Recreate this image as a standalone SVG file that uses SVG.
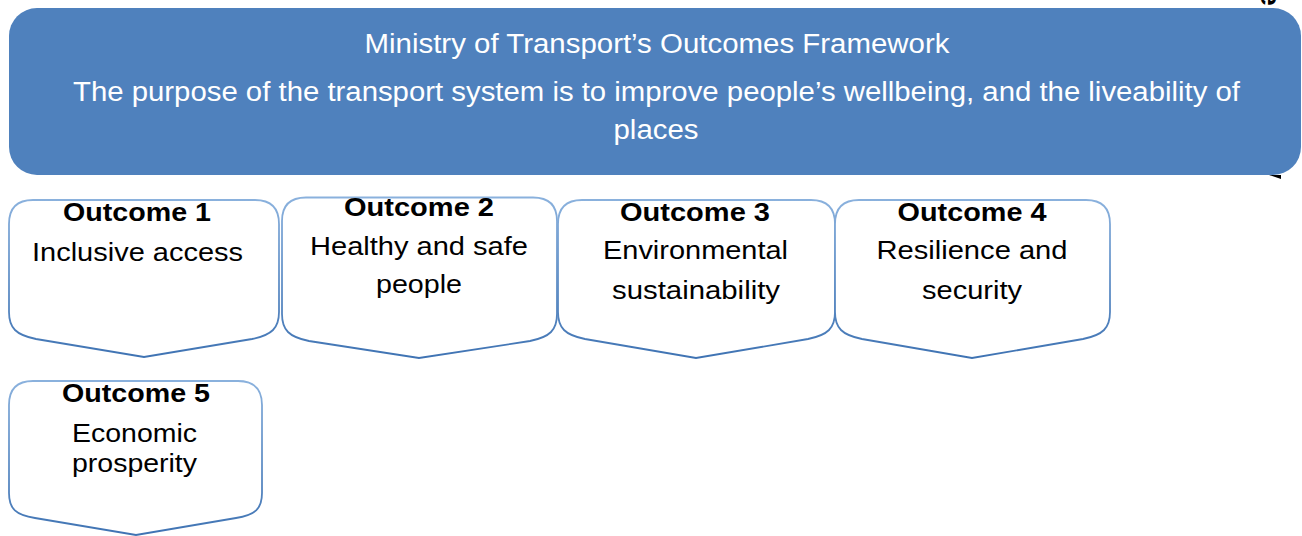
<svg xmlns="http://www.w3.org/2000/svg" width="1302" height="536" viewBox="0 0 1302 536">
  <defs>
    <linearGradient id="edge" x1="0" y1="0" x2="0" y2="1">
      <stop offset="0" stop-color="#8AB1DD"/>
      <stop offset="1" stop-color="#3F73B3"/>
    </linearGradient>
    <style>
      .banner { fill: #4F81BD; }
      .banner-text { fill: #FFFFFF; font-family: "Liberation Sans", Arial, sans-serif; font-size: 27px; text-anchor: middle; }
      .outcome { fill: #FFFFFF; stroke: url(#edge); stroke-width: 1.8; }
      .head { fill: #000000; font-family: "Liberation Sans", Arial, sans-serif; font-size: 26px; font-weight: bold; text-anchor: middle; }
      .body { fill: #000000; font-family: "Liberation Sans", Arial, sans-serif; font-size: 26px; text-anchor: middle; }
    </style>
  </defs>

  <rect width="1302" height="536" fill="#FFFFFF"/>

  <!-- rotated caption, almost fully hidden behind the banner -->
  <text x="1268" y="-2" transform="rotate(90 1268 -2)" fill="#000000" font-family="Liberation Sans, Arial, sans-serif" font-size="28" font-weight="bold" text-anchor="middle" dominant-baseline="middle">e</text>
  <polygon points="1269,175 1281,175 1281,179" fill="#000000"/>

  <!-- banner -->
  <g id="banner">
    <rect class="banner" x="9" y="8" width="1292" height="167" rx="28" ry="28"/>
    <text class="banner-text" x="657" y="53" textLength="585" lengthAdjust="spacingAndGlyphs">Ministry of Transport’s Outcomes Framework</text>
    <text class="banner-text" x="656.5" y="101" textLength="1167" lengthAdjust="spacingAndGlyphs">The purpose of the transport system is to improve people’s wellbeing, and the liveability of</text>
    <text class="banner-text" x="656" y="139" textLength="85" lengthAdjust="spacingAndGlyphs">places</text>
  </g>

  <!-- outcome tiles -->
  <g id="outcome-1">
    <path class="outcome" d="M9,224 Q9,200 33,200 H255 Q279,200 279,224 V312 C279,328 272,335 252,339 L144,357 L36,339 C16,335 9,328 9,312 Z"/>
    <text class="head" x="137" y="221" textLength="148" lengthAdjust="spacingAndGlyphs">Outcome 1</text>
    <text class="body" x="137.5" y="261" textLength="211" lengthAdjust="spacingAndGlyphs">Inclusive access</text>
  </g>

  <g id="outcome-2">
    <path class="outcome" d="M282,221 Q282,197.5 306,197.5 H533 Q557,197.5 557,221 V314 C557,330 550,337 530,341 L419,358 L309,341 C289,337 282,330 282,314 Z"/>
    <text class="head" x="419" y="216" textLength="150" lengthAdjust="spacingAndGlyphs">Outcome 2</text>
    <text class="body" x="419" y="255" textLength="218" lengthAdjust="spacingAndGlyphs">Healthy and safe</text>
    <text class="body" x="419" y="293" textLength="86" lengthAdjust="spacingAndGlyphs">people</text>
  </g>

  <g id="outcome-3">
    <path class="outcome" d="M558,224 Q558,200 582,200 H811 Q835,200 835,224 V312 C835,328 828,335 808,339 L696,358 L585,339 C565,335 558,328 558,312 Z"/>
    <text class="head" x="695" y="221" textLength="150" lengthAdjust="spacingAndGlyphs">Outcome 3</text>
    <text class="body" x="695.5" y="259" textLength="185" lengthAdjust="spacingAndGlyphs">Environmental</text>
    <text class="body" x="696" y="299" textLength="168" lengthAdjust="spacingAndGlyphs">sustainability</text>
  </g>

  <g id="outcome-4">
    <path class="outcome" d="M835,224 Q835,200 859,200 H1086 Q1110,200 1110,224 V312 C1110,328 1103,335 1083,339 L972,358 L862,339 C842,335 835,328 835,312 Z"/>
    <text class="head" x="972" y="221" textLength="149" lengthAdjust="spacingAndGlyphs">Outcome 4</text>
    <text class="body" x="972" y="259" textLength="191" lengthAdjust="spacingAndGlyphs">Resilience and</text>
    <text class="body" x="972" y="299" textLength="100" lengthAdjust="spacingAndGlyphs">security</text>
  </g>

  <g id="outcome-5">
    <path class="outcome" d="M9,405 Q9,381 33,381 H238 Q262,381 262,405 V493 C262,509 255,515 236,518 L136,535 L35,518 C16,515 9,509 9,493 Z"/>
    <text class="head" x="136" y="402" textLength="148" lengthAdjust="spacingAndGlyphs">Outcome 5</text>
    <text class="body" x="134.5" y="442" textLength="125" lengthAdjust="spacingAndGlyphs">Economic</text>
    <text class="body" x="134.5" y="472" textLength="125" lengthAdjust="spacingAndGlyphs">prosperity</text>
  </g>

  <!-- no connectors between tiles -->
  <g id="connectors"/>
</svg>
